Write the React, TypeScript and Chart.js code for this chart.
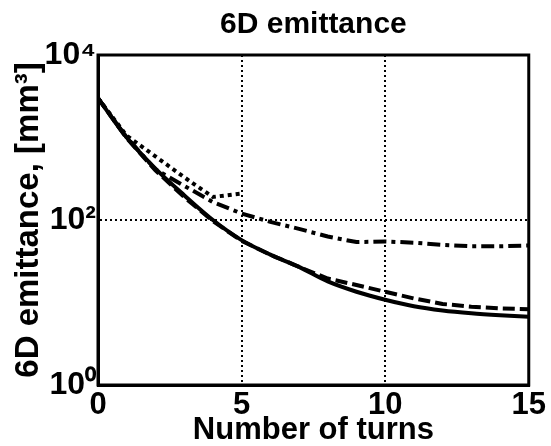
import { useEffect, useRef } from 'react';
import { Chart, registerables } from 'chart.js';

Chart.register(...registerables);

const turns = [0, 1, 2, 3, 4, 5, 6, 7, 8, 9, 10, 11, 12, 13, 14, 15];
const emitSolid = [3000, 1000, 420, 200, 100, 57, 38, 27, 18, 13.5, 10.8, 9.0, 8.0, 7.4, 7.0, 6.7];
const emitDashed = [3000, 980, 400, 190, 97, 56, 38, 27, 19.5, 16.3, 13.5, 11.2, 9.6, 8.9, 8.5, 8.3];
const emitDashDot = [3000, 1000, 410, 260, 165, 120, 95, 78, 63, 54, 55, 53, 50, 48, 48, 49];
const emitDotted = [3000, 1050, 590, 330, 190, 210];

const xTickValues = [0, 5, 10, 15];
const yTickValues = [1, 100, 10000];
const yTickLabels = ['10⁰', '10²', '10⁴'];

const titleText = '6D emittance';
const xTitleText = 'Number of turns';
const yTitleText = '6D emittance, [mm³]';

const FONT = "'Liberation Sans', Arial, Helvetica, sans-serif";

const toPoints = (vals: number[]) => vals.map((v, i) => ({ x: turns[i], y: v }));

const framePlugin = {
  id: 'frame',
  afterDatasetsDraw(chart: any) {
    const { ctx, chartArea } = chart;
    const { left, top, right, bottom } = chartArea;
    ctx.save();
    ctx.strokeStyle = '#000';
    ctx.lineWidth = 3;
    ctx.strokeRect(left, top, right - left, bottom - top);
    ctx.restore();
  },
};

export default function App() {
  const ref = useRef<HTMLCanvasElement | null>(null);

  useEffect(() => {
    if (!ref.current) return;
    const common = { pointRadius: 0, borderColor: '#000', borderWidth: 4, fill: false, tension: 0, borderCapStyle: 'butt' as const };
    const chart = new Chart(ref.current, {
      type: 'line',
      data: {
        datasets: [
          { ...common, label: 'solid', data: toPoints(emitSolid), cubicInterpolationMode: 'monotone' },
          { ...common, label: 'dashed', data: toPoints(emitDashed), borderDash: [12, 5] },
          { ...common, label: 'dashdot', data: toPoints(emitDashDot), borderDash: [13, 5, 4, 5] },
          { ...common, label: 'dotted', data: toPoints(emitDotted), borderDash: [4, 4] },
        ],
      },
      options: {
        animation: false,
        responsive: false,
        devicePixelRatio: 1,
        layout: { padding: { left: 0, right: 20, top: 0, bottom: 0 } },
        plugins: {
          legend: { display: false },
          tooltip: { enabled: false },
          title: {
            display: true,
            fullSize: false,
            text: titleText,
            color: '#000',
            font: { family: FONT, size: 30, weight: 'bold', lineHeight: 1 },
            padding: { top: 10, bottom: 15 },
          },
        },
        scales: {
          x: {
            type: 'linear',
            min: 0,
            max: 15,
            afterBuildTicks: (scale: any) => {
              scale.ticks = xTickValues.map((v) => ({ value: v }));
            },
            afterFit: (scale: any) => {
              scale.height = 61;
            },
            ticks: {
              color: '#000',
              font: { family: FONT, size: 31, weight: 'bold', lineHeight: 1 },
              padding: 5,
              maxRotation: 0,
              autoSkip: false,
            },
            grid: {
              drawTicks: false,
              lineWidth: 2,
              color: (ctx: any) => (ctx.tick && (ctx.tick.value === 5 || ctx.tick.value === 10) ? '#000' : 'rgba(0,0,0,0)'),
            },
            border: { display: true, color: '#000', width: 3, dash: [2, 3] },
            title: {
              display: true,
              text: xTitleText,
              color: '#000',
              font: { family: FONT, size: 31, weight: 'bold', lineHeight: 1 },
              padding: 0,
            },
          },
          y: {
            type: 'logarithmic',
            min: 1,
            max: 10000,
            afterBuildTicks: (scale: any) => {
              scale.ticks = yTickValues.map((v) => ({ value: v }));
            },
            afterFit: (scale: any) => {
              scale.width = 98;
            },
            ticks: {
              color: '#000',
              font: { family: FONT, size: 32, weight: 'bold', lineHeight: 1 },
              padding: 2,
              callback: (_v: any, i: number) => yTickLabels[i],
            },
            grid: {
              drawTicks: false,
              lineWidth: 2,
              color: (ctx: any) => (ctx.tick && ctx.tick.value === 100 ? '#000' : 'rgba(0,0,0,0)'),
            },
            border: { display: true, color: '#000', width: 3, dash: [2, 3] },
            title: {
              display: true,
              text: yTitleText,
              color: '#000',
              font: { family: FONT, size: 33, weight: 'bold', lineHeight: 1 },
              padding: 12,
            },
          },
        },
      },
      plugins: [framePlugin],
    } as any);
    return () => chart.destroy();
  }, []);

  return (
    <div style={{ position: 'fixed', left: 0, top: 0, width: 551, height: 446, background: '#fff' }}>
      <canvas ref={ref} width={551} height={446} style={{ display: 'block' }} />
    </div>
  );
}
